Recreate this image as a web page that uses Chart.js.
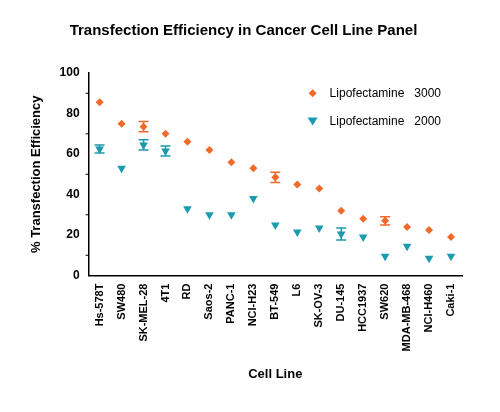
<!DOCTYPE html>
<html><head><script src="https://cdn.jsdelivr.net/npm/chart.js@4"></script>
<style>body{margin:0;background:#fff}#w{width:500px;height:412px}</style></head>
<body><div id="w"><canvas id="c"></canvas></div>
<script>
const categories=["Hs-578T","SW480","SK-MEL-28","4T1","RD","Saos-2","PANC-1","NCI-H23","BT-549","L6","SK-OV-3","DU-145","HCC1937","SW620","MDA-MB-468","NCI-H460","Caki-1"];
const lipo3000=[85.5,75,73.5,70,66,62,56,53,48.5,45,43,32,28,27,24,22.5,19];
const err3000=[0,0,2.5,0,0,0,0,0,2.5,0,0,0,0,2,0,0,0];
const lipo2000=[62.5,53,64.5,61.5,33,30,30,38,25,21.5,23.5,20.5,19,9.5,14.5,8.5,9.5];
const err2000=[2,0,2.5,2.5,0,0,0,0,0,0,0,3,0,0,0,0,0];
const yTicks=[0,20,40,60,80,100];
const C3='#f26a2a',C2='#1c9ab0';
const errPlugin={id:'err',afterDatasetsDraw(ch){
 const ctx=ch.ctx,x=ch.scales.x,y=ch.scales.y;
 [[lipo3000,err3000,C3],[lipo2000,err2000,C2]].forEach(([v,e,c])=>{
  ctx.save();ctx.strokeStyle=c;ctx.lineWidth=1.5;
  v.forEach((val,i)=>{if(!e[i])return;const px=x.getPixelForValue(i),t=y.getPixelForValue(val+e[i]),b=y.getPixelForValue(val-e[i]);
   ctx.beginPath();ctx.moveTo(px,t);ctx.lineTo(px,b);ctx.moveTo(px-5,t);ctx.lineTo(px+5,t);ctx.moveTo(px-5,b);ctx.lineTo(px+5,b);ctx.stroke();});
  ctx.restore();});
 ctx.save();ctx.strokeStyle='#000';ctx.lineWidth=1;
 for(let v=10;v<100;v+=20){const py=y.getPixelForValue(v);ctx.beginPath();ctx.moveTo(x.left-3,py);ctx.lineTo(x.left,py);ctx.stroke();}
 ctx.restore();
 ctx.save();ctx.font='12px Arial, "Liberation Sans"';ctx.textBaseline='middle';
 const lx=x.left+224;
 [['Lipofectamine   3000',C3,'rectRot',y.getPixelForValue(90)],['Lipofectamine   2000',C2,'triangle',y.getPixelForValue(76)]].forEach(([t,c,s,py])=>{
  ctx.fillStyle=c;ctx.beginPath();
  if(s==='rectRot'){ctx.moveTo(lx,py-4);ctx.lineTo(lx+4,py);ctx.lineTo(lx,py+4);ctx.lineTo(lx-4,py);}
  else{ctx.moveTo(lx-5,py-4);ctx.lineTo(lx+5,py-4);ctx.lineTo(lx,py+4);}
  ctx.fill();ctx.fillStyle='#000';ctx.fillText(t,lx+17,py);});
 ctx.restore();
}};
new Chart(document.getElementById('c'),{type:'line',
 data:{labels:categories,datasets:[
  {data:lipo3000,showLine:false,pointStyle:'rectRot',pointRadius:4,backgroundColor:C3,borderColor:C3,pointBorderWidth:0},
  {data:lipo2000,showLine:false,pointStyle:'triangle',rotation:180,pointRadius:5,backgroundColor:C2,borderColor:C2,pointBorderWidth:0}]},
 options:{responsive:true,maintainAspectRatio:false,animation:false,
  layout:{padding:{left:25,right:38,top:8,bottom:26}},
  plugins:{legend:{display:false},tooltip:{enabled:false},
   title:{display:true,text:'Transfection Efficiency in Cancer Cell Line Panel',color:'#000',font:{family:'Arial, "Liberation Sans"',size:15,weight:'bold'},padding:{top:14,bottom:33}}},
  scales:{
   x:{offset:true,grid:{display:false,drawTicks:true,tickLength:5,color:'#000'},border:{color:'#000',width:1.5},
    ticks:{color:'#000',maxRotation:90,minRotation:90,font:{family:'Arial, "Liberation Sans"',size:11,weight:'bold'}},
    title:{display:true,text:'Cell Line',color:'#000',font:{family:'Arial, "Liberation Sans"',size:13,weight:'bold'},padding:{top:12}}},
   y:{min:0,max:100,afterBuildTicks(s){s.ticks=yTicks.map(v=>({value:v}));},
    grid:{display:false,drawTicks:true,tickLength:6,color:'#000'},border:{color:'#000',width:1.5},
    ticks:{color:'#000',font:{family:'Arial, "Liberation Sans"',size:12,weight:'bold'}},
    title:{display:true,text:'% Transfection Efficiency',color:'#000',font:{family:'Arial, "Liberation Sans"',size:13,weight:'bold'},padding:{bottom:12}}}}},
 plugins:[errPlugin]});
</script></body></html>
